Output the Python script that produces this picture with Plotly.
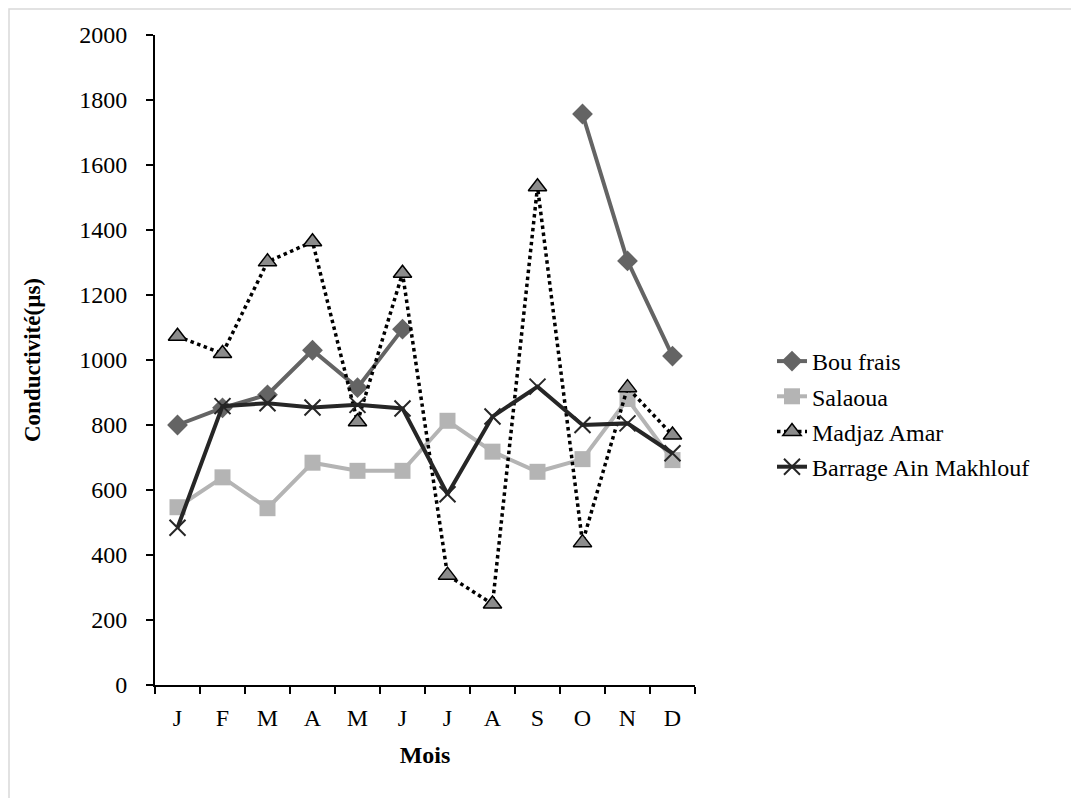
import plotly.graph_objects as go

months = ["J", "F", "M", "A", "M", "J", "J", "A", "S", "O", "N", "D"]
xcat = list(range(12))

bou_frais = [800, 853, 893, 1030, 915, 1095, None, None, None, 1757, 1305, 1012]
salaoua = [547, 639, 544, 684, 659, 659, 813, 718, 656, 695, 880, 692]
madjaz_amar = [1073, 1020, 1302, 1364, 810, 1267, 338, 249, 1533, 438, 915, 769]
barrage = [484, 858, 867, 854, 862, 851, 587, 826, 918, 800, 805, 713]

FONT = "Liberation Serif, Times New Roman, serif"
OFF = 8  # page body margin
W, H = 1079 - OFF, 798 - OFF
L, R, T, B = 155 - OFF, 695 - OFF, 35 - OFF, 685 - OFF


def px(x):
    return (x - OFF - L) / (R - L)


def py(y):
    return (B - (y - OFF)) / (B - T)


fig = go.Figure()
fig.add_trace(go.Scatter(
    x=xcat, y=bou_frais, name="Bou frais", mode="lines+markers",
    connectgaps=False, legendgroup="a",
    line=dict(color="#646464", width=4),
    marker=dict(symbol="diamond", size=16, color="#646464"),
))
fig.add_trace(go.Scatter(
    x=xcat, y=salaoua, name="Salaoua", mode="lines+markers", legendgroup="b",
    line=dict(color="#b4b4b4", width=4),
    marker=dict(symbol="square", size=16, color="#b4b4b4"),
))
fig.add_trace(go.Scatter(
    x=xcat, y=madjaz_amar, name="Madjaz Amar", mode="lines+markers", legendgroup="c",
    line=dict(color="#000000", width=3.5, dash="dot"),
    marker=dict(symbol="triangle-up", size=16, color="#8c8c8c",
                line=dict(color="#000000", width=1.5)),
))
fig.add_trace(go.Scatter(
    x=xcat, y=barrage, name="Barrage Ain Makhlouf", mode="lines+markers", legendgroup="d",
    line=dict(color="#262626", width=4),
    marker=dict(symbol="x-thin", size=16, color="#262626",
                line=dict(color="#262626", width=2)),
))

fig.update_layout(
    width=W, height=H,
    margin=dict(l=L, r=W - R, t=T, b=H - B),
    paper_bgcolor="white", plot_bgcolor="white",
    font=dict(family=FONT, size=24, color="black"),
    showlegend=True,
    legend=dict(x=px(772), y=py(414), xanchor="left", yanchor="middle",
                font=dict(family=FONT, size=24, color="black"),
                tracegroupgap=1, bgcolor="rgba(0,0,0,0)"),
    shapes=[dict(type="rect", xref="paper", yref="paper",
                 x0=px(9), x1=px(1090), y0=py(9), y1=py(810),
                 line=dict(color="#d9d9d9", width=1.5), fillcolor="rgba(0,0,0,0)",
                 layer="below")],
)
fig.update_xaxes(
    type="linear", range=[-0.5, 11.5], tickmode="array",
    tickvals=xcat, ticktext=months, showgrid=False, zeroline=False,
    showline=True, linecolor="black", linewidth=2,
    ticks="", ticklabelstandoff=10,
    title=dict(text="<b>Mois</b>", font=dict(family=FONT, size=24), standoff=16),
    minor=dict(tickmode="array", tickvals=[i - 0.5 for i in range(13)],
               ticks="outside", ticklen=7, tickwidth=1.5, tickcolor="black",
               showgrid=False),
)
fig.update_yaxes(
    range=[0, 2000], dtick=200, showgrid=False, zeroline=False,
    showline=True, linecolor="black", linewidth=2,
    ticks="outside", ticklen=7, tickwidth=1.5, tickcolor="black",
    ticklabelstandoff=14,
    title=dict(text="<b>Conductivité(µs)</b>", font=dict(family=FONT, size=23), standoff=32),
)

fig.write_html("out.html")
